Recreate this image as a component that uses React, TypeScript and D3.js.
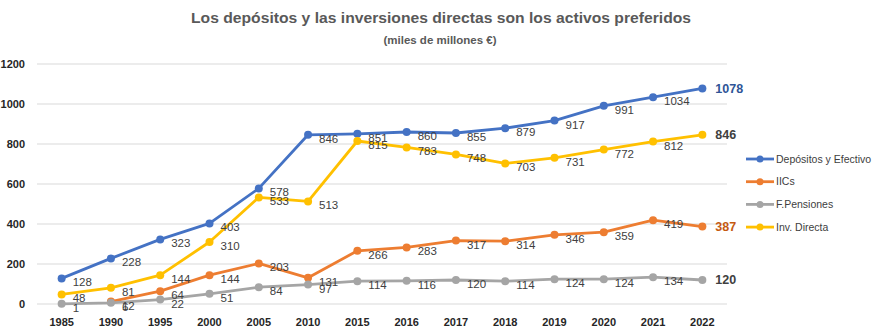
import React from "react";
import * as d3 from "d3";

const years = ["1985","1990","1995","2000","2005","2010","2015","2016","2017","2018","2019","2020","2021","2022"];
const depositos = [128, 228, 323, 403, 578, 846, 851, 860, 855, 879, 917, 991, 1034, 1078];
const iics: (number | null)[] = [null, 12, 64, 144, 203, 131, 266, 283, 317, 314, 346, 359, 419, 387];
const pensiones = [1, 6, 22, 51, 84, 97, 114, 116, 120, 114, 124, 124, 134, 120];
const invDirecta = [48, 81, 144, 310, 533, 513, 815, 783, 748, 703, 731, 772, 812, 846];
const yTicks = [0, 200, 400, 600, 800, 1000, 1200];

const series = [
  { name: "Depósitos y Efectivo", values: depositos as (number | null)[], color: "#4472C4", endColor: "#2F5597" },
  { name: "IICs", values: iics, color: "#ED7D31", endColor: "#C55A11" },
  { name: "F.Pensiones", values: pensiones as (number | null)[], color: "#A5A5A5", endColor: "#404040" },
  { name: "Inv. Directa", values: invDirecta as (number | null)[], color: "#FFC000", endColor: "#404040" },
];

const W = 883, H = 335;
const font = "'Liberation Sans', Arial, sans-serif";

export default function App() {
  const x = d3.scaleBand<string>().domain(years).range([37, 727]);
  const cx = (y: string) => (x(y) as number) + x.bandwidth() / 2;
  const y = d3.scaleLinear().domain([0, 1200]).range([304, 64]);
  const lastIdx = years.length - 1;

  return (
    <svg width={W} height={H} style={{ position: "absolute", left: 0, top: 0, background: "#fff" }} fontFamily={font}>
      <rect x={0} y={0} width={W} height={H} fill="#fff" />
      <text x={441} y={23} textAnchor="middle" fontSize={15.5} fontWeight="bold" fill="#595959" textLength={500} lengthAdjust="spacingAndGlyphs">
        Los depósitos y las inversiones directas son los activos preferidos
      </text>
      <text x={440} y={44} textAnchor="middle" fontSize={11.5} fontWeight="bold" fill="#595959">
        (miles de millones €)
      </text>
      {yTicks.map((t) => (
        <g key={t}>
          <line x1={37} x2={727} y1={y(t)} y2={y(t)} stroke="#D9D9D9" strokeWidth={1} />
          <text x={25} y={y(t)} dy="0.35em" textAnchor="end" fontSize={11} fontWeight="bold" fill="#262626">
            {t}
          </text>
        </g>
      ))}
      {years.map((yr) => (
        <text key={yr} x={cx(yr)} y={326} textAnchor="middle" fontSize={11} fontWeight="bold" fill="#262626">
          {yr}
        </text>
      ))}
      {series.map((s) => {
        const pts = years
          .map((yr, i) => ({ yr, v: s.values[i], i }))
          .filter((p) => p.v !== null) as { yr: string; v: number; i: number }[];
        const line = d3
          .line<{ yr: string; v: number }>()
          .x((p) => cx(p.yr))
          .y((p) => y(p.v));
        return (
          <g key={s.name}>
            <path d={line(pts) || ""} fill="none" stroke={s.color} strokeWidth={2.8} strokeLinejoin="round" />
            {pts.map((p) => (
              <circle key={p.yr} cx={cx(p.yr)} cy={y(p.v)} r={4} fill={s.color} />
            ))}
          </g>
        );
      })}
      {series.map((s) =>
        years.map((yr, i) => {
          const v = s.values[i];
          if (v === null) return null;
          if (i === lastIdx) {
            return (
              <text key={s.name + yr} x={cx(yr) + 13} y={y(v)} dy="0.35em" fontSize={12.5} fontWeight="bold" fill={s.endColor}>
                {v}
              </text>
            );
          }
          return (
            <text key={s.name + yr} x={cx(yr) + 11} y={y(v) + 4} dy="0.35em" fontSize={11.5} fill="#404040">
              {v}
            </text>
          );
        })
      )}
      {series.map((s, i) => {
        const ly = 159 + i * 22.7;
        return (
          <g key={s.name}>
            <line x1={746} x2={774} y1={ly} y2={ly} stroke={s.color} strokeWidth={2.8} />
            <circle cx={760} cy={ly} r={3.5} fill={s.color} />
            <text x={776} y={ly} dy="0.35em" fontSize={10.5} fill="#404040">
              {s.name}
            </text>
          </g>
        );
      })}
    </svg>
  );
}
